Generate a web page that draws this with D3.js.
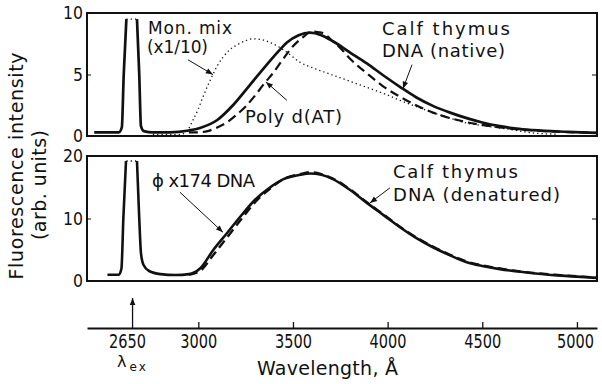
<!DOCTYPE html>
<html>
<head>
<meta charset="utf-8">
<script src="https://cdn.jsdelivr.net/npm/d3@7"></script>
<style>
    body { margin: 0; background: #fff; }
    svg text { font-family: "DejaVu Sans", "Liberation Sans", sans-serif; fill: #111; }
</style>
</head>
<body>
<svg width="602" height="384"></svg>
<script>
// wavelength ticks (Å) and intensity ticks
var wlTicks = [2650, 3000, 3500, 4000, 4500, 5000];
var topTicks = [0, 5, 10];
var botTicks = [0, 10, 20];

// upper panel: calf thymus DNA (native), includes the excitation peak (null = off-scale top)
var nativeWl = [2450, 2580, 2596, 2606, 2620, 2649, 2676, 2688, 2697, 2712, 2760, 2850, 2950, 3009, 3100, 3183, 3270, 3362, 3430, 3468, 3530, 3590, 3650, 3711, 3800, 3890, 3980, 4065, 4150, 4239, 4330, 4418, 4500, 4593, 4680, 4767, 4950, 5105];
var nativeVal = [0.3, 0.3, 0.7, 5, 9.5, null, 9.5, 5, 0.8, 0.4, 0.3, 0.3, 0.45, 0.65, 1.3, 2.5, 4.1, 5.8, 7.0, 7.6, 8.2, 8.4, 8.2, 7.7, 6.8, 5.9, 4.9, 4.0, 3.15, 2.45, 1.9, 1.45, 1.1, 0.8, 0.6, 0.48, 0.34, 0.25];

// poly d(AT)
var polyWl = [2950, 3000, 3050, 3100, 3150, 3200, 3250, 3300, 3350, 3394, 3450, 3500, 3550, 3600, 3650, 3711, 3760, 3800, 3850, 3890, 3980, 4065, 4150, 4239, 4330, 4418, 4500, 4593, 4680, 4767, 4900, 5105];
var polyVal = [0.3, 0.3, 0.4, 0.7, 1.1, 1.7, 2.4, 3.3, 4.3, 5.1, 6.3, 7.3, 8.0, 8.5, 8.4, 7.7, 7.0, 6.3, 5.6, 5.1, 4.0, 3.2, 2.5, 1.9, 1.45, 1.12, 0.9, 0.7, 0.55, 0.45, 0.35, 0.25];

// monomer mixture (x1/10)
var monWl = [2760, 2900, 2940, 2972, 3000, 3025, 3050, 3077, 3100, 3130, 3165, 3204, 3250, 3289, 3330, 3379, 3430, 3468, 3537, 3620, 3711, 3800, 3891, 3980, 4065, 4150, 4239, 4330, 4419, 4500, 4593, 4680, 4767, 4900];
var monVal = [0.1, 0.1, 0.4, 1.3, 2.2, 3.2, 4.1, 5.0, 5.7, 6.4, 7.0, 7.4, 7.75, 7.9, 7.85, 7.6, 7.2, 6.8, 6.0, 5.45, 4.95, 4.45, 3.95, 3.45, 2.9, 2.4, 1.9, 1.45, 1.05, 0.85, 0.65, 0.45, 0.25, 0.15];

// lower panel: calf thymus DNA (denatured), includes the excitation peak
var denatWl = [2520, 2580, 2594, 2604, 2618, 2649, 2676, 2688, 2697, 2710, 2740, 2800, 2880, 2950, 3009, 3080, 3150, 3230, 3300, 3380, 3450, 3537, 3590, 3650, 3711, 3800, 3890, 3980, 4065, 4150, 4239, 4330, 4418, 4500, 4593, 4680, 4767, 4900, 5000, 5105];
var denatVal = [1.0, 1.0, 2.0, 10, 19.2, null, 19.2, 10, 4.5, 2.6, 1.6, 1.1, 0.95, 1.1, 2.0, 5.0, 7.6, 10.6, 13.0, 15.0, 16.3, 17.0, 17.2, 17.0, 16.3, 14.6, 12.5, 10.5, 8.6, 6.9, 5.4, 4.1, 3.0, 2.4, 1.9, 1.55, 1.25, 0.9, 0.7, 0.5];

// phi x174 DNA
var phiWl = [2950, 3009, 3080, 3150, 3230, 3300, 3380, 3450, 3537, 3590, 3650, 3711, 3800, 3890, 3980, 4065, 4150, 4239, 4330, 4418, 4500, 4593, 4680, 4767, 4900, 5000, 5105];
var phiVal = [1.0, 1.6, 4.2, 6.9, 10.0, 12.6, 14.8, 16.3, 17.1, 17.4, 17.1, 16.4, 14.7, 12.6, 10.6, 8.7, 7.0, 5.5, 4.2, 3.1, 2.5, 2.0, 1.6, 1.3, 0.95, 0.75, 0.55];

// off-scale tops of the excitation peaks
var capWl = [2620, 2676];
var capTop = [9.5, 9.5];
var capBot = [19.2, 19.2];

var svg = d3.select("svg");
var x = d3.scaleLinear().domain([2412, 5106]).range([87, 597]);
var yTop = d3.scaleLinear().domain([0, 10]).range([136, 13]);
var yBot = d3.scaleLinear().domain([0, 20]).range([281, 156]);

svg.append("defs").append("marker")
    .attr("id", "head")
    .attr("viewBox", "0 0 10 10")
    .attr("refX", 10)
    .attr("refY", 5)
    .attr("markerWidth", 9)
    .attr("markerHeight", 7)
    .attr("markerUnits", "userSpaceOnUse")
    .attr("orient", "auto")
    .append("path")
    .attr("d", "M0,1L10,5L0,9Z")
    .attr("fill", "#111");

function pairs(wl, val) {
    return wl.map(function (w, i) {
        return [w, val[i]];
    });
}

function curve(y, wl, val, width, dash) {
    var line = d3.line()
        .defined(function (d) { return d[1] !== null; })
        .x(function (d) { return x(d[0]); })
        .y(function (d) { return y(d[1]); })
        .curve(d3.curveMonotoneX);
    svg.append("path")
        .attr("d", line(pairs(wl, val)))
        .attr("fill", "none")
        .attr("stroke", "#111")
        .attr("stroke-width", width)
        .attr("stroke-linejoin", "round")
        .attr("stroke-dasharray", dash);
}

function frame(y, ticks, mid) {
    svg.append("rect")
        .attr("x", x.range()[0])
        .attr("y", y.range()[1])
        .attr("width", x.range()[1] - x.range()[0])
        .attr("height", y.range()[0] - y.range()[1])
        .attr("fill", "none")
        .attr("stroke", "#111")
        .attr("stroke-width", 2);

    var left = svg.append("g")
        .attr("transform", "translate(" + x.range()[0] + ",0)")
        .call(d3.axisLeft(y).tickValues(ticks).tickSize(-4).tickPadding(4));
    left.select(".domain").remove();
    left.selectAll("line").attr("stroke", "#111");
    left.selectAll("text")
        .attr("font-size", 18)
        .attr("font-family", null)
        .attr("textLength", function (d) { return String(d).length * 10; })
        .attr("lengthAdjust", "spacingAndGlyphs");

    var right = svg.append("g")
        .attr("transform", "translate(" + x.range()[1] + ",0)")
        .call(d3.axisRight(y).tickValues([mid]).tickSize(-5).tickFormat(""));
    right.select(".domain").remove();
    right.selectAll("line").attr("stroke", "#111");
}

function label(str, px, py, len, size) {
    svg.append("text")
        .attr("x", px)
        .attr("y", py)
        .attr("font-size", size || 18)
        .attr("textLength", len)
        .attr("lengthAdjust", "spacing")
        .text(str);
}

function arrow(y, w1, v1, w2, v2) {
    svg.append("line")
        .attr("x1", x(w1)).attr("y1", y(v1))
        .attr("x2", x(w2)).attr("y2", y(v2))
        .attr("stroke", "#111")
        .attr("stroke-width", 1)
        .attr("marker-end", "url(#head)");
}

// panels
frame(yTop, topTicks, 5);
frame(yBot, botTicks, 10);

curve(yTop, monWl, monVal, 1.3, "1.3,3");
curve(yTop, polyWl, polyVal, 2.2, "9,5");
curve(yTop, nativeWl, nativeVal, 2.7, null);
curve(yTop, capWl, capTop, 1.3, "1.3,3");

curve(yBot, phiWl, phiVal, 2.4, "9,5");
curve(yBot, denatWl, denatVal, 2.6, null);
curve(yBot, capWl, capBot, 1.3, "1.3,3");

// wavelength axis
var xAxis = svg.append("g")
    .attr("transform", "translate(0,328)")
    .call(d3.axisBottom(x).tickValues(wlTicks).tickFormat(d3.format("d"))
        .tickSize(-6).tickSizeOuter(0).tickPadding(6));
xAxis.select(".domain").attr("stroke", "#111").attr("stroke-width", 2);
xAxis.selectAll("line").attr("stroke", "#111").attr("stroke-width", 1.3);
xAxis.selectAll("text")
    .attr("font-size", 20)
    .attr("font-family", null)
    .attr("textLength", 37)
    .attr("lengthAdjust", "spacingAndGlyphs");
xAxis.selectAll(".tick")
    .filter(function (d) { return d === 2650; })
    .call(function (t) {
        t.select("line").attr("y2", -30).attr("marker-end", "url(#head)");
        t.select("text").attr("dx", -5);
    });
xAxis.selectAll(".tick")
    .filter(function (d) { return d === 5000; })
    .select("text").attr("dx", -2);

// excitation wavelength label
var ex = svg.append("text")
    .attr("x", x(2650) - 15)
    .attr("y", 367)
    .attr("font-size", 16)
    .text("λ");
ex.append("tspan")
    .attr("dx", 3)
    .attr("dy", 4)
    .attr("font-size", 12)
    .attr("letter-spacing", 2)
    .text("ex");

label("Wavelength, Å", 257, 375, 141, 19);

// y axis title
svg.append("text")
    .attr("transform", "translate(23,166) rotate(-90)")
    .attr("text-anchor", "middle")
    .attr("font-size", 19)
    .attr("textLength", 227)
    .attr("lengthAdjust", "spacing")
    .text("Fluorescence intensity");
svg.append("text")
    .attr("transform", "translate(46,185) rotate(-90)")
    .attr("text-anchor", "middle")
    .attr("font-size", 19)
    .attr("textLength", 110)
    .attr("lengthAdjust", "spacing")
    .text("(arb. units)");

// annotations, upper panel
label("Mon. mix", 148, 34, 84, 17);
label("(x1/10)", 147, 53, 61, 17);
arrow(yTop, 2945, 6.2, 3077, 5.0);

label("Poly d(AT)", 245, 123, 97);
arrow(yTop, 3468, 2.9, 3357, 4.4);

label("Calf thymus", 382, 35, 128);
label("DNA (native)", 382, 57, 123);
arrow(yTop, 4129, 5.8, 4081, 3.85);

// annotations, lower panel
label("ϕ x174 DNA", 152, 187, 103);
arrow(yBot, 2903, 14.2, 3130, 7.8);

label("Calf thymus", 393, 178, 125);
label("DNA (denatured)", 393, 201, 167);
arrow(yBot, 4012, 14.9, 3907, 12.5);
</script>
</body>
</html>
